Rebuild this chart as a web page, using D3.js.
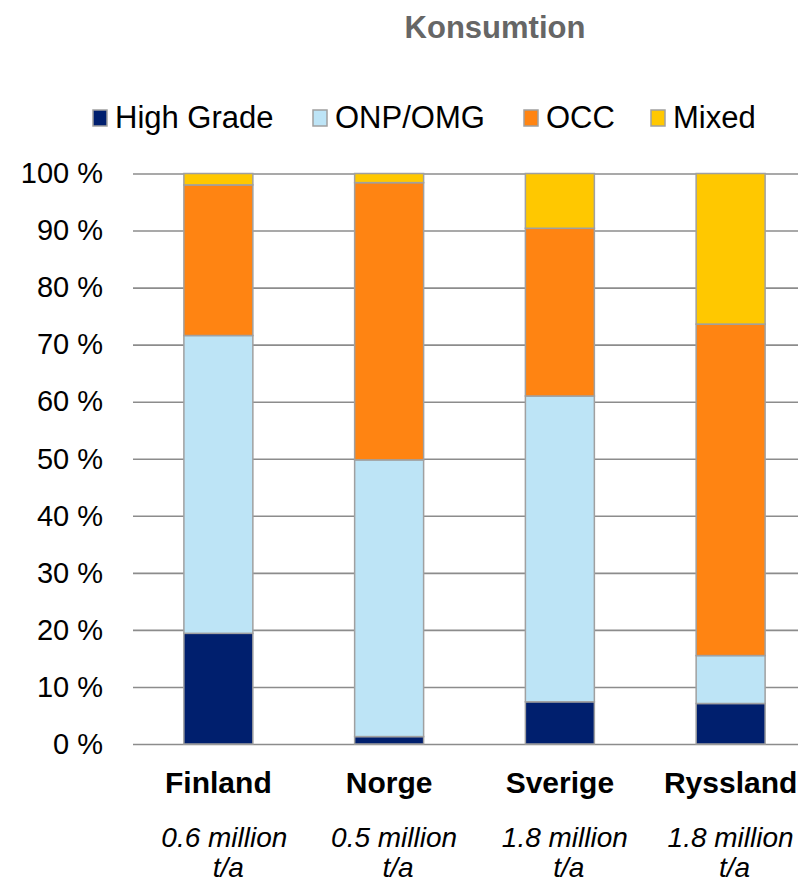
<!DOCTYPE html>
<html>
<head>
<meta charset="utf-8">
<script src="https://cdn.jsdelivr.net/npm/d3@7"></script>
<style>
  body { margin: 0; background: #fff; }
  svg { display: block; font-family: Arial, "Liberation Sans", sans-serif; }
</style>
</head>
<body>
<div id="viz"><svg></svg></div>
<script>
const fullWidth = 798;
const fullHeight = 883;

// data (share of consumption, %)
const countries = ['Finland', 'Norge', 'Sverige', 'Ryssland'];
const volumes = ['0.6 million', '0.5 million', '1.8 million', '1.8 million'];
const grades = ['High Grade', 'ONP/OMG', 'OCC', 'Mixed'];
const highGrade = [19.4, 1.3, 7.4, 7.1];
const onpOmg = [52.2, 48.5, 53.6, 8.4];
const occ = [26.4, 48.6, 29.4, 58.1];
const mixed = [2.0, 1.6, 9.6, 26.4];
const yTicks = [0, 10, 20, 30, 40, 50, 60, 70, 80, 90, 100];

const colors = ['#001f6e', '#bde4f6', '#ff8412', '#ffc800'];

const margin = { top: 173.5, left: 133 },
  plotBottom = 744,
  plotRight = 816;

const table = countries.map((c, i) => ({
  country: c,
  'High Grade': highGrade[i],
  'ONP/OMG': onpOmg[i],
  'OCC': occ[i],
  'Mixed': mixed[i]
}));

const series = d3.stack().keys(grades)(table);

const x = d3.scaleBand()
  .domain(countries)
  .range([margin.left, plotRight])
  .paddingInner(0.596)
  .paddingOuter(0.298);

const y = d3.scaleLinear()
  .domain([0, 100])
  .range([plotBottom, margin.top]);

const svg = d3.select('#viz svg')
  .attr('width', fullWidth)
  .attr('height', fullHeight);

// title
svg.append('text')
  .attr('x', 495)
  .attr('y', 38)
  .attr('text-anchor', 'middle')
  .attr('font-weight', 'bold')
  .attr('font-size', 31)
  .attr('fill', '#666')
  .text('Konsumtion');

// gridlines + y labels
const yAxis = svg.append('g')
  .attr('transform', `translate(${margin.left},0)`)
  .call(d3.axisLeft(y).tickValues(yTicks).tickSize(-(fullWidth - margin.left + 10)).tickFormat(d => d + ' %'));
yAxis.select('.domain').remove();
yAxis.selectAll('.tick line')
  .attr('stroke', '#8c8c8c')
  .attr('stroke-width', 1.6);
yAxis.selectAll('.tick text')
  .attr('x', -30)
  .attr('font-size', 29)
  .attr('fill', '#000');

// stacked bars
svg.append('g')
  .selectAll('g')
  .data(series)
  .enter().append('g')
  .attr('fill', (d, i) => colors[i])
  .selectAll('rect')
  .data(d => d)
  .enter().append('rect')
  .attr('x', d => x(d.data.country))
  .attr('width', x.bandwidth())
  .attr('y', d => y(d[1]))
  .attr('height', d => y(d[0]) - y(d[1]))
  .attr('stroke', '#a0a0a0')
  .attr('stroke-width', 1.5);

// category labels
const labels = svg.append('g');
labels.selectAll('.country')
  .data(countries)
  .enter().append('text')
  .attr('class', 'country')
  .attr('x', d => x(d) + x.bandwidth() / 2)
  .attr('y', 793)
  .attr('text-anchor', 'middle')
  .attr('font-weight', 'bold')
  .attr('font-size', 30)
  .text(d => d);

// volume notes sit a bit right of the bars; last one pulled in to stay on the page
const noteShift = [6, 5, 5, 0];

labels.selectAll('.volume')
  .data(volumes)
  .enter().append('text')
  .attr('class', 'volume')
  .attr('x', (d, i) => x(countries[i]) + x.bandwidth() / 2 + noteShift[i])
  .attr('y', 847)
  .attr('text-anchor', 'middle')
  .attr('font-style', 'italic')
  .attr('font-size', 28)
  .text(d => d);

labels.selectAll('.unit')
  .data(volumes)
  .enter().append('text')
  .attr('class', 'unit')
  .attr('x', (d, i) => x(countries[i]) + x.bandwidth() / 2 + noteShift[i] + 4)
  .attr('y', 877)
  .attr('text-anchor', 'middle')
  .attr('font-style', 'italic')
  .attr('font-size', 28)
  .text('t/a');

// legend
const legendX = [93, 313, 524, 651];
const legend = svg.append('g')
  .selectAll('g')
  .data(grades)
  .enter().append('g')
  .attr('transform', (d, i) => `translate(${legendX[i]},110)`);

legend.append('rect')
  .attr('width', 14)
  .attr('height', 16)
  .attr('fill', (d, i) => colors[i])
  .attr('stroke', '#a0a0a0')
  .attr('stroke-width', 1.5);

legend.append('text')
  .attr('x', 22)
  .attr('y', 18)
  .attr('font-size', 31)
  .text(d => d);
</script>
</body>
</html>
